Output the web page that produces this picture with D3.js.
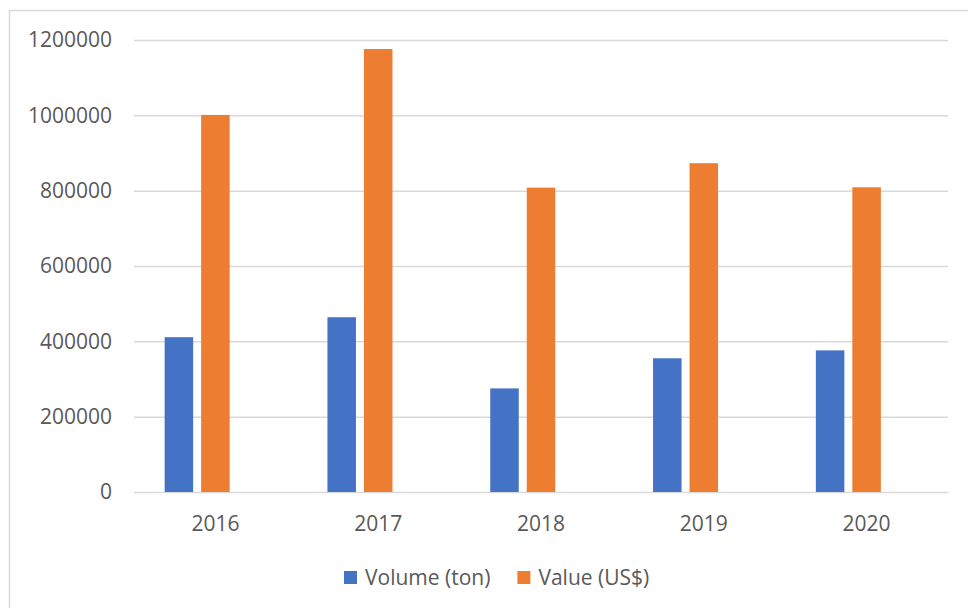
<!DOCTYPE html>
<html>
<head>
<meta charset="utf-8">
<script src="https://cdn.jsdelivr.net/npm/d3@7"></script>
<style>
  body { margin: 0; background: #fff; }
  svg text { font-family: "Open Sans", sans-serif; fill: #595959; }
</style>
</head>
<body>
<svg id="chart"></svg>
<script>
const width = 968
const height = 608

// data
const years = ["2016", "2017", "2018", "2019", "2020"]
const volume = [411000, 464000, 275000, 355000, 376000]
const value = [1001000, 1176000, 808000, 873000, 809000]
const seriesNames = ["Volume (ton)", "Value (US$)"]
const seriesColors = ["#4472C4", "#ED7D31"]
const yTicks = [0, 200000, 400000, 600000, 800000, 1000000, 1200000]

const svg = d3.select("#chart")
            .attr("width", width)
            .attr("height", height);

// chart area frame
svg.append("rect")
   .attr("x", 9.5).attr("y", 10.5)
   .attr("width", 980).attr("height", 620)
   .attr("fill", "#fff")
   .attr("stroke", "#d9d9d9")
   .attr("stroke-width", 1.5);

const plotLeft = 134, plotRight = 948, plotTop = 40, plotBottom = 492

const x = d3.scaleBand()
            .domain(years)
            .range([plotLeft, plotRight])

const y = d3.scaleLinear()
            .domain([0, 1200000])
            .range([plotBottom, plotTop])

// three slots per year, the third one is empty like the source chart
const cluster = 101.5
const xSub = d3.scaleBand()
            .domain(["vol", "val", "blank"])
            .range([x.bandwidth() / 2 - cluster / 2, x.bandwidth() / 2 + cluster / 2])
            .paddingInner(8 / 36.5)

// gridlines + y labels
const yAxis = svg.append("g")
   .attr("transform", `translate(${plotLeft},0)`)
   .call(d3.axisLeft(y).tickValues(yTicks).tickSize(-(plotRight - plotLeft)).tickPadding(22).tickFormat(d3.format("d")))
yAxis.select(".domain").remove()
yAxis.selectAll("line").attr("stroke", "#d9d9d9").attr("stroke-width", 1.5)
yAxis.selectAll("text").attr("font-size", 21).attr("fill", "#595959")

const rows = years.map((yr, i) => ({ year: yr, vol: volume[i], val: value[i] }))

const keys = ["vol", "val"]
keys.forEach((k, si) => {
    svg.append("g")
       .selectAll("rect")
       .data(rows)
       .enter()
       .append("rect")
       .attr("x", d => x(d.year) + xSub(k))
       .attr("width", xSub.bandwidth())
       .attr("y", d => y(d[k]))
       .attr("height", d => plotBottom - y(d[k]))
       .attr("fill", seriesColors[si])
})

// x labels
const xAxis = svg.append("g")
   .attr("transform", `translate(0,${plotBottom})`)
   .call(d3.axisBottom(x).tickSize(0).tickPadding(0))
xAxis.select(".domain").remove()
xAxis.selectAll("text")
     .attr("font-size", 21)
     .attr("dy", null)
     .attr("y", 38.5)
     .attr("fill", "#595959")

// legend
const legend = svg.append("g").attr("transform", "translate(344,0)")
let lx = 0
seriesNames.forEach((name, i) => {
    const item = legend.append("g").attr("transform", `translate(${lx},0)`)
    item.append("rect")
        .attr("x", 0).attr("y", 571)
        .attr("width", 13).attr("height", 13)
        .attr("fill", seriesColors[i])
    const t = item.append("text")
        .attr("x", 21).attr("y", 585)
        .attr("font-size", 21)
        .text(name)
    lx += 21 + t.node().getComputedTextLength() + 27
})
</script>
</body>
</html>
